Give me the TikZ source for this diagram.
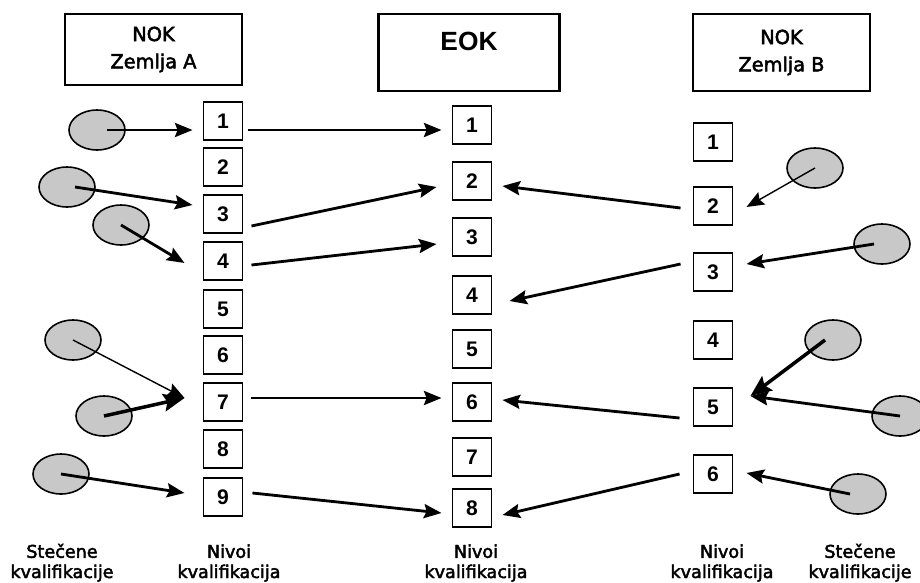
\documentclass[tikz,border=0pt]{standalone}
\usepackage{fontspec}
\setmainfont{DejaVu Sans}[FakeBold=2.5]
\newfontfamily\numfont{Liberation Sans}
\usepackage{tikz}
\usetikzlibrary{positioning,shapes.geometric,arrows.meta}
\definecolor{blobgray}{RGB}{200,200,200}

\tikzset{
  numbox/.style={draw,line width=1.1pt,minimum width=0.78cm,minimum height=0.76cm,inner sep=0pt,
    font=\numfont\bfseries\fontsize{12}{14}\selectfont},
  headbox/.style={draw,line width=1.2pt,minimum width=3.54cm,align=center,
    font=\fontsize{11}{15.5}\selectfont},
  blob/.style={ellipse,draw,line width=0.9pt,fill=blobgray,minimum width=1.12cm,minimum height=0.8cm,inner sep=0pt},
  arr/.style={line width=1.6pt,-{Stealth[length=10pt,width=8pt,inset=1.5pt]}},
  thinarr/.style={line width=0.8pt,-{Stealth[length=10pt,width=8pt,inset=1.5pt]}},
  thickarr/.style={line width=2pt,-{Stealth[length=12pt,width=10pt,inset=2pt]}},
  lbl/.style={align=center,inner sep=0pt,anchor=south,font=\fontsize{10}{11.5}\selectfont}
}

\begin{document}
\begin{tikzpicture}[x=0.02cm,y=-0.02cm]
\useasboundingbox (0,0) rectangle (920,582);
% headers
\node[headbox,minimum height=1.42cm] (nokA) at (153.5,49.5) {NOK\\Zemlja A};
\node[headbox,minimum width=3.62cm,minimum height=1.54cm] (eok) at (469,52.5) {};
\node[font=\numfont\bfseries\fontsize{15}{18}\selectfont] (eoktxt) at (469,41) {EOK};
\node[headbox,minimum height=1.54cm] (nokB) at (781.5,52.5) {NOK\\Zemlja B};

% levels
\foreach \n/\y in {1/121,2/167,3/214,4/261,5/309,6/355,7/402,8/449,9/497}
  \node[numbox] (A\n) at (223,\y) {\n};
\foreach \n/\y in {1/125,2/181,3/237,4/295,5/349,6/402,7/457,8/508}
  \node[numbox] (E\n) at (472,\y) {\n};
\foreach \n/\y in {1/142,2/206,3/272,4/340,5/407,6/474}
  \node[numbox] (B\n) at (713,\y) {\n};

% acquired qualifications
\node[blob] (sa1) at (97,130) {};
\node[blob] (sa2) at (67,187) {};
\node[blob] (sa3) at (121,225) {};
\node[blob] (sa4) at (73,340) {};
\node[blob] (sa5) at (104,416) {};
\node[blob] (sa6) at (61,474) {};
\node[blob] (sb1) at (815,168) {};
\node[blob] (sb2) at (882,244) {};
\node[blob] (sb3) at (833,340) {};
\node[blob] (sb4) at (900,416) {};
\node[blob] (sb5) at (858,494) {};

\draw[arr] ([shift={(10,0)}]sa1.center) -- ([shift={(-10,9)}]A1.west);
\draw[arr] ([shift={(8,0)}]sa2.center) -- ([shift={(-10,-9)}]A3.west);
\draw[arr] (sa3.center) -- ([shift={(-18,2)}]A4.west);
\draw[thinarr] (sa4.center) -- ([shift={(-18,-4)}]A7.west);
\draw[thickarr] (sa5.center) -- ([shift={(-18,-4)}]A7.west);
\draw[arr] (sa6.center) -- ([shift={(-18,-4)}]A9.west);

\draw[thinarr] (sb1.center) -- ([shift={(13,1)}]B2.east);
\draw[arr] ([shift={(-8,0)}]sb2.center) -- ([shift={(13,-8)}]B3.east);
\draw[thickarr] ([shift={(-8,0)}]sb3.center) -- ([shift={(17,-11)}]B5.east);
\draw[arr] (sb4.center) -- ([shift={(17,-11)}]B5.east);
\draw[arr] ([shift={(-8,0)}]sb5.center) -- ([shift={(13,-1)}]B6.east);

% mapping onto EOK
\draw[arr] ([shift={(5,9)}]A1.east) -- ([shift={(-10,5)}]E1.west);
\draw[arr] ([shift={(8,12)}]A3.east) -- ([shift={(-15,6)}]E2.west);
\draw[arr] ([shift={(8,4)}]A4.east) -- ([shift={(-15,7)}]E3.west);
\draw[arr] ([shift={(8,-4)}]A7.east) -- ([shift={(-10,-4)}]E6.west);
\draw[arr] ([shift={(9,-4)}]A9.east) -- ([shift={(-10,5)}]E8.west);
\draw[arr] ([shift={(-12,2)}]B2.west) -- ([shift={(10,5)}]E2.east);
\draw[arr] ([shift={(-12,-8)}]B3.west) -- ([shift={(17,6)}]E4.east);
\draw[arr] ([shift={(-13,11)}]B5.west) -- ([shift={(10,-2)}]E6.east);
\draw[arr] ([shift={(-13,0)}]B6.west) -- ([shift={(10,7)}]E8.east);

% captions
\node[lbl] (stA) at (62,582) {Stečene\\kvalifikacije};
\node[lbl] (nivA) at (229,582) {Nivoi\\kvalifikacija};
\node[lbl] (nivE) at (476,582) {Nivoi\\kvalifikacija};
\node[lbl] (nivB) at (722,582) {Nivoi\\kvalifikacija};
\node[lbl] (stB) at (860,582) {Stečene\\kvalifikacije};
\end{tikzpicture}
\end{document}
